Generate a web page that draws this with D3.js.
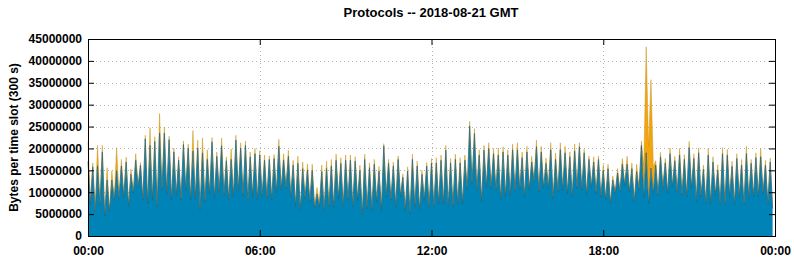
<!DOCTYPE html>
<html lang="en">
<head>
  <meta charset="utf-8">
  <script src="https://d3js.org/d3.v7.min.js"></script>
  <style>
    body { margin: 0; background: #fff; }
    svg { display: block; font-family: "Liberation Sans", Arial, sans-serif; }
    .tick text { font-size: 12px; font-weight: bold; fill: #000; }
  </style>
</head>
<body>
  <svg></svg>
  <script>
    // values in millions of bytes per 300 s slot, one per slot (288 slots)
    var blueSeries = [
      17.0, 7.4, 15.8, 5.5, 16.0, 7.1, 19.2, 4.6, 12.8, 5.5, 12.8, 8.2, 14.9, 8.6, 16.0, 9.0,
      16.9, 6.8, 14.1, 9.7, 17.3, 11.2, 16.2, 8.2, 22.2, 7.4, 20.7, 8.2, 21.6, 6.8, 23.5, 10.5,
      23.5, 9.7, 22.0, 8.2, 19.2, 9.3, 17.3, 8.2, 20.9, 10.5, 20.1, 8.2, 19.4, 8.6, 20.1, 6.1,
      19.0, 7.8, 17.5, 9.6, 21.5, 8.6, 18.2, 10.1, 20.6, 9.3, 17.2, 8.2, 17.5, 9.0, 21.9, 10.3,
      20.1, 9.3, 20.7, 8.0, 18.1, 9.0, 18.8, 8.2, 18.5, 9.0, 17.3, 8.6, 17.5, 8.2, 17.7, 9.9,
      20.5, 10.5, 17.3, 10.9, 18.2, 9.0, 16.2, 6.8, 16.6, 5.9, 15.4, 8.6, 15.0, 7.8, 15.0, 6.3,
      9.6, 6.7, 14.7, 5.9, 15.4, 6.7, 16.0, 6.5, 17.3, 8.6, 16.6, 6.7, 17.3, 8.2, 17.3, 6.7,
      17.1, 8.2, 15.0, 4.8, 17.5, 6.3, 15.6, 5.9, 16.4, 7.8, 14.8, 5.9, 20.6, 9.0, 16.6, 8.2,
      16.0, 6.7, 17.5, 9.0, 13.4, 5.9, 14.8, 5.2, 17.5, 6.7, 16.0, 5.9, 14.1, 8.2, 16.0, 6.7,
      16.6, 6.7, 16.7, 7.4, 17.3, 7.3, 19.6, 6.7, 16.7, 6.8, 17.5, 7.3, 16.7, 7.4, 17.3, 10.6,
      25.1, 12.0, 23.4, 10.5, 18.5, 7.8, 19.6, 11.2, 20.0, 10.9, 18.8, 10.5, 18.5, 8.2, 19.2, 9.0,
      18.5, 9.3, 19.7, 10.3, 19.7, 10.5, 17.9, 9.0, 19.2, 10.6, 16.9, 12.4, 20.4, 10.1, 19.2, 10.9,
      16.6, 10.9, 19.7, 8.6, 17.5, 10.1, 19.7, 10.5, 19.0, 9.7, 18.1, 9.0, 19.4, 10.9, 20.4, 10.5,
      19.0, 9.3, 17.5, 11.1, 16.9, 9.7, 17.5, 9.0, 15.0, 8.2, 15.4, 7.4, 12.8, 9.7, 14.4, 10.1,
      16.4, 11.6, 16.4, 10.1, 15.4, 7.8, 14.7, 10.5, 20.7, 9.0, 19.0, 7.4, 15.5, 9.7, 16.2, 9.3,
      18.1, 10.9, 16.7, 9.7, 18.8, 11.2, 17.2, 9.9, 18.5, 9.3, 17.5, 9.0, 20.2, 10.9, 17.7, 7.8,
      19.0, 9.0, 15.2, 7.4, 18.5, 7.4, 16.9, 9.3, 15.0, 7.4, 18.8, 7.1, 18.5, 9.0, 15.9, 7.1,
      17.7, 9.0, 16.2, 7.1, 18.8, 8.6, 16.6, 9.0, 17.9, 9.0, 18.1, 9.7, 16.2, 7.4, 16.9, 6.3
    ];

    var orangeSeries = [
      4.5, 0.4, 0.9, 0.3, 4.7, 0.4, 1.5, 0.3, 2.8, 0.4, 2.1, 0.3, 5.3, 0.4, 1.5, 0.3,
      1.1, 0.4, 1.2, 0.3, 1.5, 0.4, 0.6, 0.3, 0.8, 0.4, 4.0, 0.3, 1.1, 0.4, 4.5, 0.4,
      1.4, 0.3, 0.8, 0.4, 0.9, 0.3, 0.8, 0.4, 0.8, 0.3, 0.9, 0.4, 4.7, 0.4, 1.8, 0.3,
      3.4, 0.4, 2.2, 0.3, 1.0, 0.4, 1.0, 0.3, 1.8, 0.4, 0.9, 0.3, 2.4, 0.4, 1.1, 0.3,
      1.2, 0.4, 1.0, 0.3, 1.1, 0.4, 1.2, 0.3, 1.0, 0.4, 1.2, 0.3, 0.8, 0.4, 0.9, 0.3,
      1.6, 0.4, 1.5, 0.3, 1.4, 0.4, 1.1, 0.3, 1.6, 0.4, 1.5, 0.3, 1.5, 0.4, 1.4, 0.3,
      1.5, 0.4, 1.5, 0.3, 1.7, 0.4, 1.5, 0.3, 1.4, 0.4, 1.3, 0.3, 1.2, 0.4, 1.2, 0.3,
      1.0, 0.4, 1.2, 0.3, 1.2, 0.4, 1.1, 0.3, 1.1, 0.4, 1.1, 0.3, 0.5, 0.4, 0.9, 0.3,
      0.9, 0.4, 0.8, 0.3, 0.8, 0.4, 1.0, 0.3, 1.2, 0.4, 1.1, 0.3, 0.9, 0.4, 0.8, 0.3,
      1.1, 0.4, 1.2, 0.3, 1.2, 0.4, 1.1, 0.3, 1.0, 0.4, 1.2, 0.3, 1.2, 0.4, 1.2, 0.3,
      1.1, 0.4, 1.1, 0.3, 1.2, 0.4, 1.1, 0.3, 1.3, 0.4, 1.2, 0.3, 1.6, 0.4, 1.2, 0.3,
      1.2, 0.4, 1.3, 0.3, 1.6, 0.4, 1.3, 0.3, 1.3, 0.4, 1.3, 0.3, 1.5, 0.4, 1.3, 0.3,
      1.2, 0.4, 1.6, 0.3, 1.5, 0.4, 1.6, 0.3, 1.5, 0.4, 1.1, 0.3, 1.6, 0.4, 0.9, 0.3,
      0.8, 0.4, 0.8, 0.3, 1.2, 0.4, 0.8, 0.3, 1.3, 0.4, 1.0, 0.3, 0.9, 0.4, 1.0, 0.3,
      1.3, 0.4, 1.8, 0.3, 1.3, 0.4, 1.7, 0.6, 1.0, 7.0, 24.2, 13.0, 20.2, 6.0, 1.0, 0.4,
      1.0, 0.3, 1.0, 0.4, 1.3, 0.3, 1.0, 0.4, 1.5, 0.3, 1.1, 0.4, 1.4, 0.3, 1.1, 0.4,
      1.1, 0.3, 1.0, 0.4, 1.5, 0.3, 1.2, 0.4, 1.3, 0.3, 1.4, 0.4, 1.3, 0.3, 1.2, 0.4,
      1.1, 0.3, 1.3, 0.4, 1.7, 0.3, 0.9, 0.4, 1.1, 0.3, 1.9, 0.4, 1.1, 0.3, 0.9, 0.3
    ];

    var yTicks = [0, 5000000, 10000000, 15000000, 20000000, 25000000, 30000000, 35000000, 40000000, 45000000];
    var xTickHours = [0, 6, 12, 18, 24];
    var titleText = 'Protocols -- 2018-08-21 GMT';
    var yLabelText = 'Bytes per time slot (300 s)';

    var width = 794, height = 260;
    var margin = { left: 88, right: 19, top: 39, bottom: 24 };
    var slot = 300 * 1000;
    var t0 = Date.UTC(2018, 7, 21, 0, 0, 0);

    var rows = blueSeries.map(function (b, i) {
      return { t: new Date(t0 + i * slot), blue: b * 1e6, orange: orangeSeries[i] * 1e6 };
    });

    var x = d3.scaleUtc()
      .domain([new Date(t0), new Date(t0 + 24 * 3600 * 1000)])
      .range([margin.left, width - margin.right]);

    var y = d3.scaleLinear()
      .domain([0, 45000000])
      .range([height - margin.bottom, margin.top]);

    var stack = d3.stack().keys(['blue', 'orange']);
    var layers = stack(rows);

    var svg = d3.select('svg')
      .attr('width', width)
      .attr('height', height);

    var xTickValues = xTickHours.map(function (h) { return new Date(t0 + h * 3600 * 1000); });

    // dotted grid
    var grid = svg.append('g').attr('stroke', '#b4b4b4').attr('stroke-dasharray', '1,3').attr('stroke-width', 1);
    grid.selectAll('line.gy')
      .data(yTicks.slice(1, -1))
      .enter().append('line')
      .attr('x1', margin.left).attr('x2', width - margin.right)
      .attr('y1', function (d) { return Math.round(y(d)) + 0.5; })
      .attr('y2', function (d) { return Math.round(y(d)) + 0.5; });
    grid.selectAll('line.gx')
      .data(xTickValues.slice(1, -1))
      .enter().append('line')
      .attr('y1', margin.top).attr('y2', height - margin.bottom)
      .attr('x1', function (d) { return Math.round(x(d)) + 0.5; })
      .attr('x2', function (d) { return Math.round(x(d)) + 0.5; });

    var area = d3.area()
      .x(function (d) { return x(d.data.t); })
      .y0(function (d) { return y(d[0]); })
      .y1(function (d) { return y(d[1]); });

    var topLine = d3.line()
      .x(function (d) { return x(d.data.t); })
      .y(function (d) { return y(d[1]); });

    var fills = ['#0083b6', '#f4a40c'];
    var strokes = ['#1b6385', '#c9951f'];
    var strokeWidths = [0.7, 0.5];

    layers.forEach(function (layer, i) {
      svg.append('path')
        .datum(layer)
        .attr('d', area)
        .attr('fill', fills[i]);
    });
    // edges drawn top series first, so the dark blue edge sits above
    layers.slice().reverse().forEach(function (layer) {
      var i = layer.index;
      svg.append('path')
        .datum(layer)
        .attr('d', topLine)
        .attr('fill', 'none')
        .attr('stroke', strokes[i])
        .attr('stroke-width', strokeWidths[i]);
    });

    // axes
    svg.append('g')
      .attr('transform', 'translate(' + margin.left + ',0)')
      .call(d3.axisLeft(y).tickValues(yTicks).tickSize(-6).tickPadding(6).tickFormat(d3.format('d')))
      .call(function (g) { g.select('.domain').remove(); });

    svg.append('g')
      .attr('transform', 'translate(' + (width - margin.right) + ',0)')
      .call(d3.axisRight(y).tickValues(yTicks).tickSize(-6).tickFormat(''))
      .call(function (g) { g.select('.domain').remove(); });

    svg.append('g')
      .attr('transform', 'translate(0,' + (height - margin.bottom) + ')')
      .call(d3.axisBottom(x).tickValues(xTickValues).tickSize(-6).tickPadding(10).tickFormat(d3.utcFormat('%H:%M')))
      .call(function (g) { g.select('.domain').remove(); });

    svg.append('g')
      .attr('transform', 'translate(0,' + margin.top + ')')
      .call(d3.axisTop(x).tickValues(xTickValues).tickSize(-6).tickFormat(''))
      .call(function (g) { g.select('.domain').remove(); });

    svg.selectAll('.tick line').attr('stroke', '#000');

    // frame
    svg.append('rect')
      .attr('x', margin.left + 0.5).attr('y', margin.top + 0.5)
      .attr('width', width - margin.left - margin.right)
      .attr('height', height - margin.top - margin.bottom)
      .attr('fill', 'none').attr('stroke', '#000').attr('stroke-width', 1);

    svg.append('text')
      .attr('x', 431).attr('y', 17)
      .attr('text-anchor', 'middle')
      .style('font-size', '13px').style('font-weight', 'bold')
      .text(titleText);

    svg.append('text')
      .attr('transform', 'translate(18,' + ((margin.top + height - margin.bottom) / 2) + ') rotate(-90)')
      .attr('text-anchor', 'middle')
      .style('font-size', '12px').style('font-weight', 'bold')
      .text(yLabelText);
  </script>
</body>
</html>
